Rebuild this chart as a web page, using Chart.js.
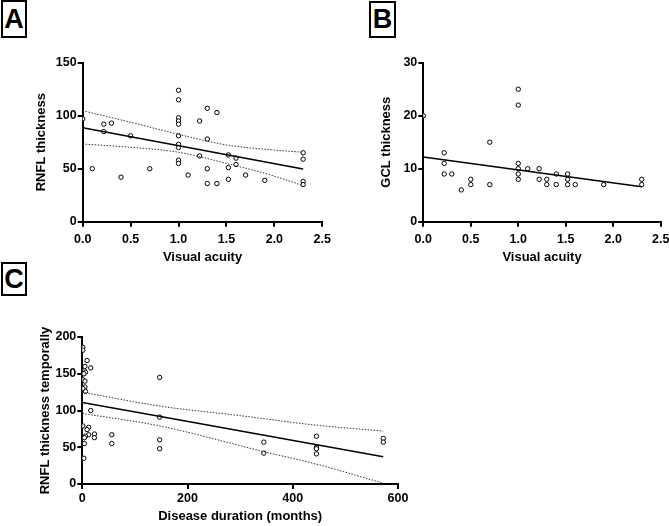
<!DOCTYPE html>
<html>
<head>
<meta charset="utf-8">
<script src="https://cdn.jsdelivr.net/npm/chart.js@4.4.1/dist/chart.umd.min.js"></script>
<style>
  html, body { margin: 0; padding: 0; background: #fff; overflow: hidden; }
  body { width: 669px; height: 526px; position: relative; font-family: "Liberation Sans", Arial, sans-serif; }
  canvas { position: absolute; }
  .tag {
    position: absolute; box-sizing: border-box; border: 2px solid #000;
    font-weight: bold; font-size: 27px; line-height: 1; text-align: center;
    display: flex; align-items: center; justify-content: center;
  }
</style>
</head>
<body>
<div class="tag" style="left:1px; top:0px; width:26px; height:38px;">A</div>
<div class="tag" style="left:369px; top:1px; width:27px; height:37px;">B</div>
<div class="tag" style="left:1px; top:262px; width:26px; height:34px;">C</div>

<canvas id="chartA" style="left:0px; top:40px; width:345px; height:240px;" width="345" height="240"></canvas>
<canvas id="chartB" style="left:345px; top:40px; width:340px; height:240px;" width="340" height="240"></canvas>
<canvas id="chartC" style="left:0px; top:300px; width:420px; height:226px;" width="420" height="226"></canvas>

<script>
// A: RNFL thickness vs visual acuity
const acuityA = [0, 0.1, 0.22, 0.22, 0.3, 0.4, 0.5, 0.7, 1, 1, 1, 1, 1, 1, 1, 1, 1, 1, 1.1, 1.22, 1.22, 1.3, 1.3, 1.3, 1.3, 1.4, 1.4, 1.52, 1.52, 1.52, 1.6, 1.6, 1.7, 1.9, 2.3, 2.3, 2.3, 2.3];
const rnflA = [97, 50, 92, 85, 93, 42, 81, 50, 124, 115, 98, 95, 92, 81, 73, 70, 58, 55, 44, 95, 62, 107, 78, 50, 36, 103, 36, 63, 51, 40, 60, 54, 44, 39, 65, 59, 38, 35];
const fitAX = [0, 2.3];
const fitAY = [88.7, 49.7];
const bandAX = [0, 0.5, 1.0, 1.5, 2.0, 2.3];
const bandAUpper = [104.7, 93.8, 82.4, 72.4, 67.6, 65.5];
const bandALower = [73.3, 70.2, 65.5, 55, 43, 34];

// B: GCL thickness vs visual acuity
const acuityB = [0, 0.22, 0.22, 0.22, 0.3, 0.4, 0.5, 0.5, 0.7, 0.7, 1, 1, 1, 1, 1, 1, 1.1, 1.22, 1.22, 1.3, 1.3, 1.4, 1.4, 1.52, 1.52, 1.52, 1.6, 1.9, 2.3, 2.3];
const gclB = [20, 13, 11, 9, 9, 6, 8, 7, 15, 7, 25, 22, 11, 10, 9, 8, 10, 10, 8, 8, 7, 9, 7, 9, 8, 7, 7, 7, 8, 7];
const fitBX = [0, 2.3];
const fitBY = [12.2, 6.6];

// C: temporal RNFL thickness vs disease duration
const durationC = [1, 1, 9, 5, 16, 4, 6, 3, 1, 5, 5, 6, 1, 16, 1, 12, 9, 12, 23, 23, 6, 4, 4, 3, 56, 56, 147, 147, 147, 147, 345, 345, 445, 445, 445, 445, 572, 572];
const rnflC = [186, 182, 168, 160, 158, 154, 152, 150, 142, 140, 132, 126, 130, 100, 79, 77, 74, 67, 68, 63, 65, 63, 55, 35, 67, 55, 145, 91, 60, 48, 57, 42, 65, 50, 48, 41, 62, 57];
const fitCX = [0, 572];
const fitCY = [111, 37];
const bandCUpperX = [0, 147, 300, 445, 572];
const bandCUpper = [125, 106, 93, 80, 72];
const bandCLowerX = [0, 147, 345, 445, 572];
const bandCLower = [96, 79, 44, 27, 1];

const FONT = "'Liberation Sans', Arial, sans-serif";

function pts(xs, ys) {
    return xs.map((x, i) => ({ x: x, y: ys[i] }));
}

function scatterSet(xs, ys) {
    return {
        type: 'scatter',
        data: pts(xs, ys),
        pointStyle: 'circle',
        pointRadius: 2.2,
        pointBorderWidth: 1,
        pointBorderColor: '#000',
        pointBackgroundColor: '#fff',
        clip: { left: 0, top: false, right: false, bottom: 0 },
        order: 2
    };
}

function lineSet(xs, ys, dotted) {
    return {
        type: 'line',
        data: pts(xs, ys),
        borderColor: dotted ? '#333' : '#000',
        borderWidth: dotted ? 1 : 1.5,
        borderDash: dotted ? [1.5, 1.5] : [],
        pointRadius: 0,
        fill: false,
        cubicInterpolationMode: 'monotone',
        order: 1
    };
}

function axis(opt) {
    return {
        type: 'linear',
        min: opt.min,
        max: opt.max,
        border: { display: true, color: '#000', width: 2 },
        grid: { display: true, drawOnChartArea: false, drawTicks: true, tickLength: 5, color: '#000', lineWidth: 2 },
        ticks: {
            stepSize: opt.step,
            color: '#000',
            padding: opt.tickPad,
            font: { family: FONT, size: 12.5, weight: 'bold' },
            callback: opt.fmt
        },
        title: {
            display: true,
            text: opt.title,
            color: '#000',
            font: { family: FONT, size: 13, weight: 'bold' },
            padding: opt.titlePad
        },
        afterFit: opt.fit
    };
}

function makePanel(id, datasets, cfg) {
    new Chart(document.getElementById(id).getContext('2d'), {
        type: 'scatter',
        data: { datasets: datasets },
        options: {
            responsive: false,
            animation: false,
            devicePixelRatio: 1,
            layout: { padding: { top: cfg.padTop, right: cfg.padRight, left: 0, bottom: 0 } },
            plugins: { legend: { display: false }, tooltip: { enabled: false } },
            scales: {
                x: axis({
                    min: cfg.xMin, max: cfg.xMax, step: cfg.xStep, title: cfg.xTitle,
                    tickPad: cfg.xTickPad,
                    titlePad: { top: 0, bottom: cfg.xTitlePad },
                    fmt: cfg.xFmt,
                    fit: function (s) { s.height = cfg.xHeight; }
                }),
                y: axis({
                    min: cfg.yMin, max: cfg.yMax, step: cfg.yStep, title: cfg.yTitle,
                    tickPad: 1,
                    titlePad: { top: cfg.yTitlePad, bottom: 0 },
                    fmt: function (v) { return v; },
                    fit: function (s) { s.width = cfg.yWidth; }
                })
            }
        }
    });
}

const oneDecimal = function (v) { return Number(v).toFixed(1); };

makePanel('chartA', [
    scatterSet(acuityA, rnflA),
    lineSet(fitAX, fitAY, false),
    lineSet(bandAX, bandAUpper, true),
    lineSet(bandAX, bandALower, true)
], {
    padTop: 22.7, padRight: 22.7, xHeight: 58.3, yWidth: 82.7,
    xMin: 0, xMax: 2.5, xStep: 0.5, xFmt: oneDecimal, xTitle: 'Visual acuity', xTickPad: 5, xTitlePad: 14.5,
    yMin: 0, yMax: 150, yStep: 50, yTitle: 'RNFL thickness', yTitlePad: 33.9
});

makePanel('chartB', [
    scatterSet(acuityB, gclB),
    lineSet(fitBX, fitBY, false)
], {
    padTop: 22.7, padRight: 24.3, xHeight: 58.3, yWidth: 78.3,
    xMin: 0, xMax: 2.5, xStep: 0.5, xFmt: oneDecimal, xTitle: 'Visual acuity', xTickPad: 5, xTitlePad: 14.5,
    yMin: 0, yMax: 30, yStep: 10, yTitle: 'GCL thickness', yTitlePad: 33.9
});

makePanel('chartC', [
    scatterSet(durationC, rnflC),
    lineSet(fitCX, fitCY, false),
    lineSet(bandCUpperX, bandCUpper, true),
    lineSet(bandCLowerX, bandCLower, true)
], {
    padTop: 37, padRight: 22, xHeight: 42, yWidth: 82.3,
    xMin: 0, xMax: 600, xStep: 200, xFmt: function (v) { return v; }, xTitle: 'Disease duration (months)', xTickPad: 2.2, xTitlePad: 1.5,
    yMin: 0, yMax: 200, yStep: 50, yTitle: 'RNFL thickness temporally', yTitlePad: 37.2
});
</script>
</body>
</html>
